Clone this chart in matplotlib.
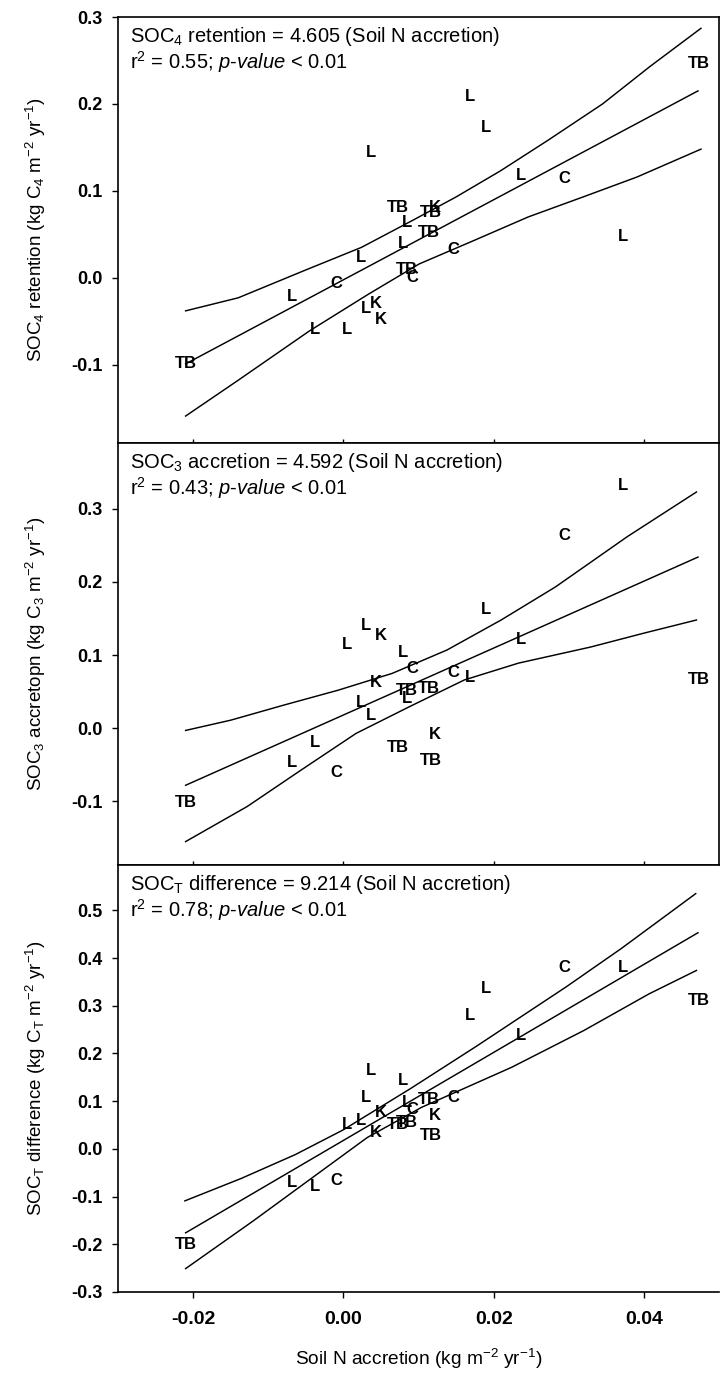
import matplotlib
matplotlib.use('Agg')
import matplotlib.pyplot as plt

plt.rcParams['font.family'] = ['Liberation Sans', 'DejaVu Sans']
plt.rcParams['mathtext.fontset'] = 'custom'
plt.rcParams['mathtext.rm'] = 'Liberation Sans'
plt.rcParams['mathtext.it'] = 'Liberation Sans:italic'
plt.rcParams['mathtext.bf'] = 'Liberation Sans:bold'
plt.rcParams['axes.unicode_minus'] = False

# ---------------- data ----------------
site_labels = ['L'] * 12 + ['C'] * 4 + ['TB'] * 6 + ['K'] * 3
soil_n = [0.0372, 0.0236, 0.0190, 0.0169, -0.0068, -0.0038, 0.0005, 0.0023,
          0.0037, 0.0030, 0.0080, 0.0085,
          0.0294, 0.0147, 0.0092, -0.0010,
          0.0473, -0.0210, 0.0072, 0.0085, 0.0116, 0.0114,
          0.0122, 0.0043, 0.0050]
soc4 = [0.048, 0.118, 0.173, 0.208, -0.021, -0.059, -0.059, 0.023,
        0.144, -0.035, 0.040, 0.064,
        0.114, 0.033, 0.000, -0.007,
        0.247, -0.098, 0.081, 0.010, 0.075, 0.052,
        0.081, -0.029, -0.048]
soc3 = [0.332, 0.121, 0.162, 0.069, -0.047, -0.020, 0.114, 0.035,
        0.018, 0.141, 0.103, 0.041,
        0.264, 0.076, 0.082, -0.060,
        0.066, -0.102, -0.026, 0.052, -0.044, 0.055,
        -0.009, 0.063, 0.127]
soct = [0.381, 0.237, 0.336, 0.279, -0.071, -0.078, 0.052, 0.059,
        0.164, 0.108, 0.143, 0.097,
        0.381, 0.108, 0.082, -0.067,
        0.311, -0.200, 0.052, 0.055, 0.027, 0.104,
        0.069, 0.034, 0.076]

# regression lines (end points)
fit_x = [-0.0210, 0.0472]
fit4_y = [-0.099, 0.215]
fit3_y = [-0.078, 0.234]
fitT_y = [-0.176, 0.453]

# confidence bands
upper4_x = [-0.0210, -0.0140, -0.0053, 0.0024, 0.0092, 0.0150, 0.0209, 0.0272, 0.0345, 0.0408, 0.0476]
upper4_y = [-0.038, -0.023, 0.008, 0.035, 0.066, 0.093, 0.123, 0.158, 0.200, 0.243, 0.287]
lower4_x = [-0.0210, -0.0142, -0.0045, 0.0033, 0.0101, 0.0174, 0.0246, 0.0319, 0.0391, 0.0476]
lower4_y = [-0.159, -0.119, -0.061, -0.019, 0.016, 0.043, 0.070, 0.093, 0.116, 0.148]

upper3_x = [-0.0210, -0.0150, -0.0078, -0.0007, 0.0065, 0.0138, 0.0210, 0.0282, 0.0321, 0.0378, 0.0470]
upper3_y = [-0.003, 0.011, 0.032, 0.052, 0.075, 0.107, 0.148, 0.193, 0.221, 0.262, 0.323]
lower3_x = [-0.0210, -0.0128, -0.0056, 0.0017, 0.0089, 0.0161, 0.0233, 0.0329, 0.0400, 0.0470]
lower3_y = [-0.155, -0.107, -0.057, -0.007, 0.030, 0.066, 0.089, 0.111, 0.130, 0.148]

upperT_x = [-0.0211, -0.0136, -0.0064, 0.0000, 0.0090, 0.0177, 0.0225, 0.0297, 0.0370, 0.0469]
upperT_y = [-0.109, -0.062, -0.012, 0.040, 0.127, 0.215, 0.265, 0.340, 0.420, 0.535]
lowerT_x = [-0.0210, -0.0120, -0.0041, 0.0032, 0.0104, 0.0224, 0.0320, 0.0407, 0.0470]
lowerT_y = [-0.251, -0.151, -0.060, 0.024, 0.087, 0.171, 0.248, 0.325, 0.374]

x_ticks = [-0.02, 0.00, 0.02, 0.04]
y4_ticks = [-0.1, 0.0, 0.1, 0.2, 0.3]
y3_ticks = [-0.1, 0.0, 0.1, 0.2, 0.3]
yT_ticks = [-0.3, -0.2, -0.1, 0.0, 0.1, 0.2, 0.3, 0.4, 0.5]

eq_texts = [r"SOC$_4$ retention = 4.605 (Soil N accretion)",
            r"SOC$_3$ accretion = 4.592 (Soil N accretion)",
            r"SOC$_\mathrm{T}$ difference = 9.214 (Soil N accretion)"]
r2_texts = [r"r$^2$ = 0.55; $\mathit{p}$-$\mathit{value}$ < 0.01",
            r"r$^2$ = 0.43; $\mathit{p}$-$\mathit{value}$ < 0.01",
            r"r$^2$ = 0.78; $\mathit{p}$-$\mathit{value}$ < 0.01"]
y_titles = [r"SOC$_4$ retention (kg C$_4$ m$^{-2}$ yr$^{-1}$)",
            r"SOC$_3$ accretopn (kg C$_3$ m$^{-2}$ yr$^{-1}$)",
            r"SOC$_\mathrm{T}$ difference (kg C$_\mathrm{T}$ m$^{-2}$ yr$^{-1}$)"]
x_title = r"Soil N accretion (kg m$^{-2}$ yr$^{-1}$)"

# ---------------- figure ----------------
W, H = 722, 1374
fig = plt.figure(figsize=(W / 100, H / 100), dpi=100)

left_px, width_px = 118, 601
panels_px = [(17, 443), (443, 865), (865, 1292)]
ylims = [(-0.19, 0.30), (-0.187, 0.39), (-0.30, 0.595)]
xlim = (-0.030, 0.050)

series = [
    (soc4, fit4_y, upper4_x, upper4_y, lower4_x, lower4_y, y4_ticks),
    (soc3, fit3_y, upper3_x, upper3_y, lower3_x, lower3_y, y3_ticks),
    (soct, fitT_y, upperT_x, upperT_y, lowerT_x, lowerT_y, yT_ticks),
]

lw = 1.05
for i, (top, bot) in enumerate(panels_px):
    ax = fig.add_axes([left_px / W, 1 - bot / H, width_px / W, (bot - top) / H])
    yv, fy, ux, uy, lx, ly, yt = series[i]
    ax.plot(fit_x, fy, color='black', lw=lw)
    ax.plot(ux, uy, color='black', lw=lw)
    ax.plot(lx, ly, color='black', lw=lw)
    for lab, xv, yy in zip(site_labels, soil_n, yv):
        ax.text(xv, yy, lab, ha='center', va='center', fontsize=12,
                fontweight='bold', color='black')
    ax.set_xlim(*xlim)
    ax.set_ylim(*ylims[i])
    ax.set_yticks(yt, ['%.1f' % v for v in yt], fontsize=13, fontweight='bold')
    ax.tick_params(axis='y', direction='out', length=4, width=1, pad=7)
    ax.set_xticks(x_ticks)
    if i < 2:
        ax.tick_params(axis='x', direction='in', length=3, width=1,
                       labelbottom=False)
    else:
        ax.set_xticklabels(['%.2f' % v for v in x_ticks], fontsize=14,
                           fontweight='bold')
        ax.tick_params(axis='x', direction='out', length=4, width=1, pad=10)
        ax.set_xlabel(x_title, fontsize=13.8)
        ax.xaxis.set_label_coords(0.5, -55 / (bot - top))
        ax.spines['right'].set_visible(False)
    for sp in ax.spines.values():
        sp.set_linewidth(1.2)
    h = bot - top
    ax.text(12 / width_px, 1 - 19 / h, eq_texts[i], transform=ax.transAxes,
            ha='left', va='center', fontsize=14.5)
    ax.text(12 / width_px, 1 - 45 / h, r2_texts[i], transform=ax.transAxes,
            ha='left', va='center', fontsize=14.5)
    ax.set_ylabel(y_titles[i], fontsize=13.5, va='center')
    ax.yaxis.set_label_coords(-(left_px - 36) / width_px, 0.5)

fig.savefig('out.png', dpi=100)
